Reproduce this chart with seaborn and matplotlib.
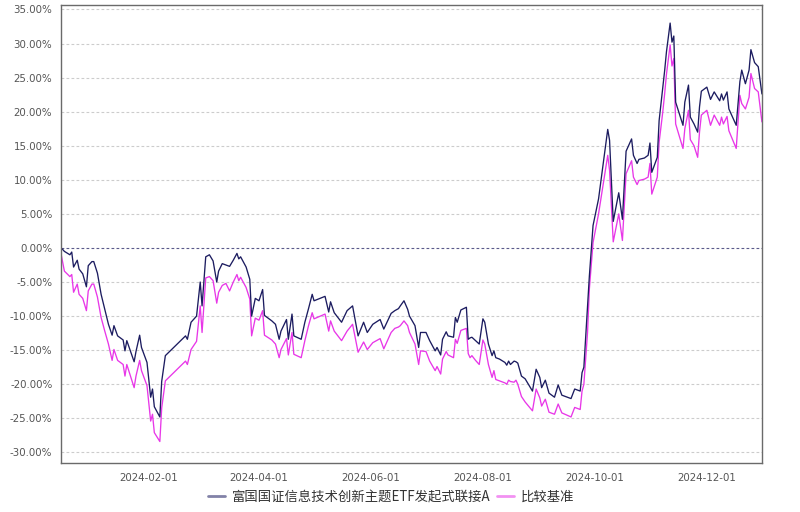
import matplotlib
matplotlib.use("Agg")
import matplotlib.pyplot as plt
import matplotlib.ticker as mticker
from matplotlib.lines import Line2D
import pandas as pd
import seaborn as sns

# ---------------- data ----------------
dates = [
    "2023-12-15", "2023-12-16", "2023-12-17", "2023-12-20", "2023-12-21", "2023-12-22",
    "2023-12-24", "2023-12-25", "2023-12-27", "2023-12-29", "2023-12-30", "2024-01-01",
    "2024-01-02", "2024-01-04", "2024-01-06", "2024-01-08", "2024-01-10", "2024-01-12",
    "2024-01-13", "2024-01-15", "2024-01-18", "2024-01-19", "2024-01-20", "2024-01-24",
    "2024-01-25", "2024-01-27", "2024-01-28", "2024-01-31", "2024-02-02", "2024-02-03",
    "2024-02-04", "2024-02-07", "2024-02-08", "2024-02-10", "2024-02-21", "2024-02-22",
    "2024-02-24", "2024-02-27", "2024-02-29", "2024-03-01", "2024-03-03", "2024-03-05",
    "2024-03-07", "2024-03-09", "2024-03-10", "2024-03-12", "2024-03-14", "2024-03-16",
    "2024-03-18", "2024-03-20", "2024-03-21", "2024-03-22", "2024-03-25", "2024-03-27",
    "2024-03-28", "2024-03-30", "2024-04-01", "2024-04-03", "2024-04-04", "2024-04-08",
    "2024-04-10", "2024-04-12", "2024-04-13", "2024-04-16", "2024-04-17", "2024-04-19",
    "2024-04-20", "2024-04-24", "2024-04-26", "2024-04-28", "2024-04-30", "2024-05-01",
    "2024-05-07", "2024-05-09", "2024-05-10", "2024-05-12", "2024-05-16", "2024-05-19",
    "2024-05-22", "2024-05-25", "2024-05-28", "2024-05-30", "2024-06-02", "2024-06-06",
    "2024-06-08", "2024-06-12", "2024-06-14", "2024-06-16", "2024-06-17", "2024-06-19",
    "2024-06-21", "2024-06-22", "2024-06-25", "2024-06-27", "2024-06-28", "2024-07-01",
    "2024-07-03", "2024-07-06", "2024-07-07", "2024-07-09", "2024-07-10", "2024-07-12",
    "2024-07-13", "2024-07-16", "2024-07-17", "2024-07-18", "2024-07-20", "2024-07-23",
    "2024-07-24", "2024-07-25", "2024-07-26", "2024-07-28", "2024-07-30", "2024-08-01",
    "2024-08-02", "2024-08-04", "2024-08-06", "2024-08-07", "2024-08-08", "2024-08-10",
    "2024-08-13", "2024-08-14", "2024-08-15", "2024-08-16", "2024-08-18", "2024-08-19",
    "2024-08-20", "2024-08-22", "2024-08-24", "2024-08-28", "2024-08-30", "2024-09-01",
    "2024-09-02", "2024-09-04", "2024-09-06", "2024-09-09", "2024-09-11", "2024-09-13",
    "2024-09-18", "2024-09-20", "2024-09-23", "2024-09-24", "2024-09-25", "2024-09-27",
    "2024-09-28", "2024-09-30", "2024-10-03", "2024-10-08", "2024-10-09", "2024-10-11",
    "2024-10-14", "2024-10-16", "2024-10-18", "2024-10-21", "2024-10-22", "2024-10-24",
    "2024-10-25", "2024-10-28", "2024-10-30", "2024-10-31", "2024-11-01", "2024-11-04",
    "2024-11-05", "2024-11-07", "2024-11-08", "2024-11-09", "2024-11-11", "2024-11-12",
    "2024-11-13", "2024-11-14", "2024-11-18", "2024-11-19", "2024-11-21", "2024-11-22",
    "2024-11-24", "2024-11-26", "2024-11-27", "2024-11-28", "2024-12-01", "2024-12-03",
    "2024-12-05", "2024-12-08", "2024-12-09", "2024-12-10", "2024-12-12", "2024-12-13",
    "2024-12-17", "2024-12-19", "2024-12-20", "2024-12-22", "2024-12-24", "2024-12-25",
    "2024-12-27", "2024-12-29", "2024-12-31",
]

fund = [
    0.0, -0.2, -0.5, -1.0, -0.6, -2.8,
    -1.8, -3.1, -3.8, -5.7, -2.6, -2.0,
    -2.0, -3.7, -6.8, -9.0, -11.2, -12.8,
    -11.4, -12.9, -13.5, -15.1, -13.6, -16.7,
    -15.2, -12.8, -14.6, -16.8, -21.9, -20.7,
    -23.3, -24.8, -19.6, -15.8, -12.9, -13.4,
    -10.9, -10.0, -5.0, -8.5, -1.3, -1.0,
    -1.9, -5.0, -3.4, -2.3, -2.5, -2.7,
    -1.8, -0.8, -1.6, -1.3, -2.8, -4.6,
    -10.0, -7.4, -7.75, -6.1, -9.9, -10.7,
    -11.2, -13.4, -12.2, -10.5, -13.4, -9.7,
    -12.9, -13.4, -10.9, -8.9, -6.8, -7.75,
    -7.1, -9.4, -7.9, -9.5, -10.9, -9.2,
    -8.5, -12.9, -10.9, -12.4, -11.2, -10.5,
    -11.9, -9.6, -9.2, -8.9, -8.5, -7.75,
    -9.0, -10.0, -11.4, -14.6, -12.4, -12.4,
    -13.6, -15.1, -14.6, -15.7, -13.4, -12.3,
    -12.9, -13.1, -10.2, -10.9, -9.1, -8.7,
    -13.4, -13.2, -13.1, -13.6, -14.1, -10.4,
    -10.9, -14.1, -15.8, -15.1, -16.1, -16.3,
    -16.8, -17.2, -16.6, -17.1, -16.6, -16.7,
    -16.9, -18.8, -19.2, -21.0, -17.8, -19.0,
    -20.5, -19.4, -21.3, -21.9, -20.1, -21.6,
    -22.1, -20.7, -21.0, -18.3, -17.5, -8.5,
    -4.1, 3.3, 7.2, 17.4, 15.8, 3.9,
    8.1, 4.2, 14.2, 16.0, 13.6, 12.4,
    13.0, 13.2, 13.6, 15.4, 11.1, 13.3,
    18.7, 23.5, 26.0, 28.8, 33.0, 30.2,
    31.1, 21.4, 18.0, 21.4, 23.9, 19.2,
    18.2, 17.0, 20.7, 23.0, 23.6, 21.8,
    22.9, 21.6, 22.6, 21.7, 22.9, 20.4,
    18.0, 24.4, 26.1, 24.1, 26.1, 29.1,
    27.2, 26.6, 22.6,
]

bench = [
    -0.6, -2.0, -3.4, -4.2, -3.9, -6.5,
    -5.3, -6.8, -7.4, -9.2, -6.3, -5.3,
    -5.3, -7.2, -10.2, -12.2, -14.1, -16.5,
    -14.9, -16.5, -17.1, -18.8, -17.1, -20.5,
    -18.8, -16.5, -18.0, -20.2, -25.4, -24.4,
    -27.1, -28.4, -23.5, -19.5, -16.6, -17.1,
    -14.9, -13.7, -8.5, -12.4, -4.4, -4.2,
    -4.8, -8.1, -6.5, -5.5, -5.2, -6.3,
    -5.0, -3.9, -4.8, -4.3, -5.8, -7.5,
    -12.9, -10.3, -10.6, -9.2, -12.8, -13.5,
    -14.1, -16.1, -14.9, -13.3, -15.7, -12.4,
    -15.6, -16.1, -13.6, -11.4, -9.5, -10.4,
    -9.7, -12.2, -10.7, -12.2, -13.6, -12.2,
    -11.2, -15.3, -13.8, -14.9, -13.9, -13.3,
    -14.8, -12.4, -11.8, -11.6, -11.4, -10.7,
    -11.4, -12.4, -14.1, -17.1, -15.1, -15.2,
    -16.6, -18.0, -17.4, -18.5, -16.3, -15.2,
    -15.7, -16.1, -13.4, -14.0, -12.1, -11.8,
    -15.5, -16.1, -15.8, -16.5, -17.1, -13.5,
    -14.1, -17.1, -19.0, -18.0, -19.3, -19.5,
    -19.8, -20.0, -19.4, -19.6, -19.7, -19.4,
    -20.0, -21.8, -22.6, -23.9, -20.7, -22.0,
    -23.2, -22.2, -24.1, -24.4, -22.9, -24.2,
    -24.8, -23.4, -23.7, -21.0, -20.0, -12.4,
    -6.0, 0.8, 5.0, 13.6, 11.4, 0.9,
    5.0, 1.1, 10.9, 12.8, 10.4, 9.3,
    9.9, 10.1, 10.4, 12.4, 7.9, 10.4,
    15.5, 20.0, 22.6, 25.5, 29.8, 26.7,
    27.8, 18.2, 14.6, 17.5, 20.2, 15.9,
    15.0, 13.3, 17.0, 19.5, 20.2, 18.0,
    19.5, 18.0, 19.2, 18.2, 19.3, 17.2,
    14.6, 22.4, 21.2, 20.4, 22.1, 25.6,
    23.4, 22.9, 18.5,
]

series_names = ["富国国证信息技术创新主题ETF发起式联接A", "比较基准"]
colors = ["#1c1c60", "#e837e8"]
tick_dates = ["2024-02-01", "2024-04-01", "2024-06-01", "2024-08-01", "2024-10-01", "2024-12-01"]
y_ticks = [-30, -25, -20, -15, -10, -5, 0, 5, 10, 15, 20, 25, 30, 35]

# ---------------- build table ----------------
d = pd.to_datetime(dates)
df = pd.concat([
    pd.DataFrame({"date": d, "value": fund, "series": series_names[0]}),
    pd.DataFrame({"date": d, "value": bench, "series": series_names[1]}),
], ignore_index=True)

# ---------------- plot ----------------
sns.set_theme(style="white")
plt.rcParams["font.family"] = ["DejaVu Sans"]

fig = plt.figure(figsize=(8.0, 5.12), dpi=100)
ax = fig.add_axes([0.0759, 0.0951, 0.9524 - 0.0759, 0.9902 - 0.0951])

# gridlines
for yv in y_ticks:
    if yv == 0:
        continue
    ax.axhline(yv, color="#cccccc", lw=0.8, ls=(0, (2.5, 2)), zorder=0)
ax.axhline(0, color="#5a5a8a", lw=0.8, ls=(0, (2.5, 2)), zorder=1)

sns.lineplot(data=df, x="date", y="value", hue="series",
             palette=dict(zip(series_names, colors)), hue_order=series_names[::-1],
             linewidth=0.95, legend=False, ax=ax, estimator=None, sort=True)

ax.set_xlim(d[0], d[-1])
ax.set_ylim(-31.6, 35.65)
ax.set_yticks(y_ticks)
ax.yaxis.set_major_formatter(mticker.FuncFormatter(lambda v, p: f"{v:.2f}%"))
tds = pd.to_datetime(tick_dates)
ax.set_xticks(tds)
ax.set_xticklabels(tick_dates)
ax.set_xlabel("")
ax.set_ylabel("")

ax.tick_params(axis="both", labelsize=7.4, colors="#bbbbbb", length=4, width=0.8)
ax.tick_params(axis="x", pad=3)
ax.tick_params(axis="y", pad=2)
for lab in ax.get_xticklabels() + ax.get_yticklabels():
    lab.set_color("#555555")

for s in ax.spines.values():
    s.set_visible(True)
    s.set_color("#6a6a6a")
    s.set_linewidth(1.0)

handles = [Line2D([0], [0], color=c, lw=2.0, alpha=0.55) for c in colors]
fig.legend(handles, series_names, loc="center", bbox_to_anchor=(0.489, 0.029),
           ncol=2, frameon=False, handlelength=1.3, handletextpad=0.5, columnspacing=0.5,
           prop={"family": ["Noto Sans CJK SC", "DejaVu Sans"], "size": 9.6},
           labelcolor="#333333")

fig.savefig("out.png", dpi=100, facecolor="white")
